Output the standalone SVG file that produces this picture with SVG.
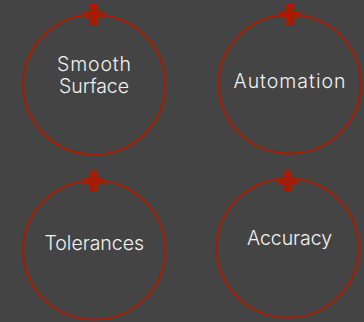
<svg xmlns="http://www.w3.org/2000/svg" width="364" height="322" viewBox="0 0 364 322">
<style>
.ring{fill:none;stroke:#a51d00;stroke-width:2}
.mark{fill:#a51d00}
text{font-family:"Inter","Open Sans","Liberation Sans",sans-serif;font-size:19.500px;font-weight:300;fill:#f2f2f2}
</style>
<defs>
<path id="cross" d="M-4-10.500H4V-3.500H10V3.500H4V10.500H-4V3.500H-10V-3.500H-4Z"/>
</defs>
<rect width="364" height="322" fill="#444444"/>
<g id="node-smooth-surface">
<ellipse class="ring" cx="94" cy="84.500" rx="71" ry="70"/>
<use href="#cross" class="mark" x="94" y="14.500"/>
<text x="57" y="71" textLength="74">Smooth</text>
<text x="59" y="93" textLength="70">Surface</text>
</g>
<g id="node-automation">
<ellipse class="ring" cx="289.500" cy="84" rx="71" ry="69.500"/>
<use href="#cross" class="mark" x="290" y="14.500"/>
<text x="233.500" y="88" textLength="112">Automation</text>
</g>
<g id="node-tolerances">
<ellipse class="ring" cx="94" cy="250" rx="71" ry="69.500"/>
<use href="#cross" class="mark" x="94" y="181"/>
<text x="44.500" y="250" textLength="99.500">Tolerances</text>
</g>
<g id="node-accuracy">
<ellipse class="ring" cx="287.500" cy="248" rx="71" ry="69.500"/>
<use href="#cross" class="mark" x="287.500" y="181"/>
<text x="247" y="245" textLength="85">Accuracy</text>
</g>
<g id="connectors"/>
</svg>
